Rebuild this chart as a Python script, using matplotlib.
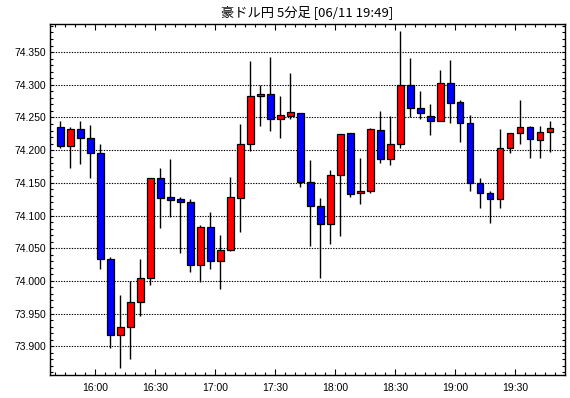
import numpy as np
import pandas as pd
import matplotlib
matplotlib.use("Agg")
import matplotlib.pyplot as plt
from matplotlib.ticker import FixedLocator, FuncFormatter

title = "豪ドル円 5分足 [06/11 19:49]"
start_time = "2021-06-11 15:40"

opens = [74.235, 74.206, 74.232, 74.218, 74.195, 74.033, 73.917, 73.930, 73.968, 74.004,
         74.157, 74.128, 74.125, 74.120, 74.024, 74.082, 74.030, 74.048, 74.127, 74.209,
         74.283, 74.286, 74.247, 74.253, 74.257, 74.152, 74.114, 74.087, 74.162, 74.226,
         74.134, 74.137, 74.231, 74.186, 74.209, 74.300, 74.264, 74.252, 74.245, 74.303,
         74.274, 74.241, 74.150, 74.134, 74.125, 74.203, 74.226, 74.235, 74.215, 74.228]
highs = [74.245, 74.236, 74.245, 74.238, 74.210, 74.036, 73.979, 74.000, 74.034, 74.157,
         74.173, 74.187, 74.128, 74.125, 74.085, 74.105, 74.070, 74.159, 74.240, 74.337,
         74.300, 74.343, 74.283, 74.318, 74.257, 74.185, 74.127, 74.169, 74.225, 74.226,
         74.188, 74.234, 74.260, 74.252, 74.383, 74.341, 74.291, 74.271, 74.323, 74.338,
         74.276, 74.254, 74.158, 74.137, 74.233, 74.226, 74.277, 74.237, 74.237, 74.245]
lows = [74.204, 74.173, 74.179, 74.158, 74.018, 73.897, 73.866, 73.880, 73.947, 73.993,
        74.081, 74.098, 74.042, 74.013, 73.999, 74.018, 73.987, 74.046, 74.075, 74.198,
        74.237, 74.230, 74.218, 74.248, 74.143, 74.054, 74.004, 74.056, 74.068, 74.129,
        74.117, 74.134, 74.180, 74.178, 74.204, 74.250, 74.248, 74.223, 74.245, 74.242,
        74.213, 74.138, 74.111, 74.089, 74.111, 74.195, 74.209, 74.188, 74.188, 74.197]
closes = [74.206, 74.232, 74.218, 74.195, 74.033, 73.917, 73.930, 73.968, 74.004, 74.157,
          74.127, 74.124, 74.120, 74.024, 74.082, 74.030, 74.048, 74.129, 74.209, 74.283,
          74.286, 74.247, 74.254, 74.258, 74.152, 74.114, 74.087, 74.162, 74.224, 74.133,
          74.137, 74.233, 74.186, 74.209, 74.300, 74.264, 74.257, 74.245, 74.303, 74.272,
          74.241, 74.150, 74.134, 74.125, 74.203, 74.226, 74.235, 74.217, 74.228, 74.234]

xlabels = ["16:00", "16:30", "17:00", "17:30", "18:00", "18:30", "19:00", "19:30"]
ytick_values = [73.900, 73.950, 74.000, 74.050, 74.100, 74.150, 74.200, 74.250, 74.300, 74.350]

O = np.array(opens); H = np.array(highs); L = np.array(lows); C = np.array(closes)
n = len(O)
times = pd.date_range(start_time, periods=n, freq="5min")
x = np.arange(n)

fig = plt.figure(figsize=(5.7, 3.98), dpi=100)
ax = fig.add_axes([50 / 570, 23 / 398, 515 / 570, 351 / 398])
ax.set_xlim(-1.05, n + 0.5)
ax.set_ylim(73.856, 74.393)

# grid
ax.set_axisbelow(True)
for v in ytick_values:
    ax.axhline(v, color="black", lw=0.8, ls=(0, (1.2, 1.2)), zorder=0)

up = C >= O
colors = np.where(up, "#ff0000", "#0000ff")
ax.vlines(x, L, H, color="black", lw=1.0, zorder=2)
heights = np.abs(C - O)
ax.bar(x, heights, bottom=np.minimum(O, C), width=0.68, color=colors,
       edgecolor="black", linewidth=0.9, zorder=3)

# x ticks
tlabels = [t.strftime("%H:%M") for t in times]
major_pos = [tlabels.index(lab) - 0.5 for lab in xlabels]
ax.xaxis.set_major_locator(FixedLocator(major_pos))
ax.set_xticklabels(xlabels)
ax.xaxis.set_minor_locator(FixedLocator(np.arange(-0.5, n + 0.5, 1.0)))

# y ticks
ax.yaxis.set_major_locator(FixedLocator(ytick_values))
ax.yaxis.set_major_formatter(FuncFormatter(lambda v, p: f"{v:.3f}"))
ax.yaxis.set_minor_locator(FixedLocator(np.arange(73.86, 74.391, 0.01)))

ax.tick_params(which="both", direction="in", top=True, right=True, color="black",
               labelsize=7.5, width=0.8)
ax.tick_params(axis="x", which="major", length=4, pad=6)
ax.tick_params(axis="x", which="minor", length=2)
ax.tick_params(axis="y", which="major", length=2.5, pad=2.5)
ax.tick_params(axis="y", which="minor", length=2)
for lab in ax.get_xticklabels() + ax.get_yticklabels():
    lab.set_family(["Liberation Sans", "DejaVu Sans"])
for s in ax.spines.values():
    s.set_linewidth(1.0)
    s.set_color("black")

fig.text(307.5 / 570, 1 - 12.5 / 398, title, ha="center", va="center", fontsize=9.5,
         family=["Noto Sans CJK JP", "DejaVu Sans"])

fig.savefig("out.png", dpi=100, facecolor="white")
